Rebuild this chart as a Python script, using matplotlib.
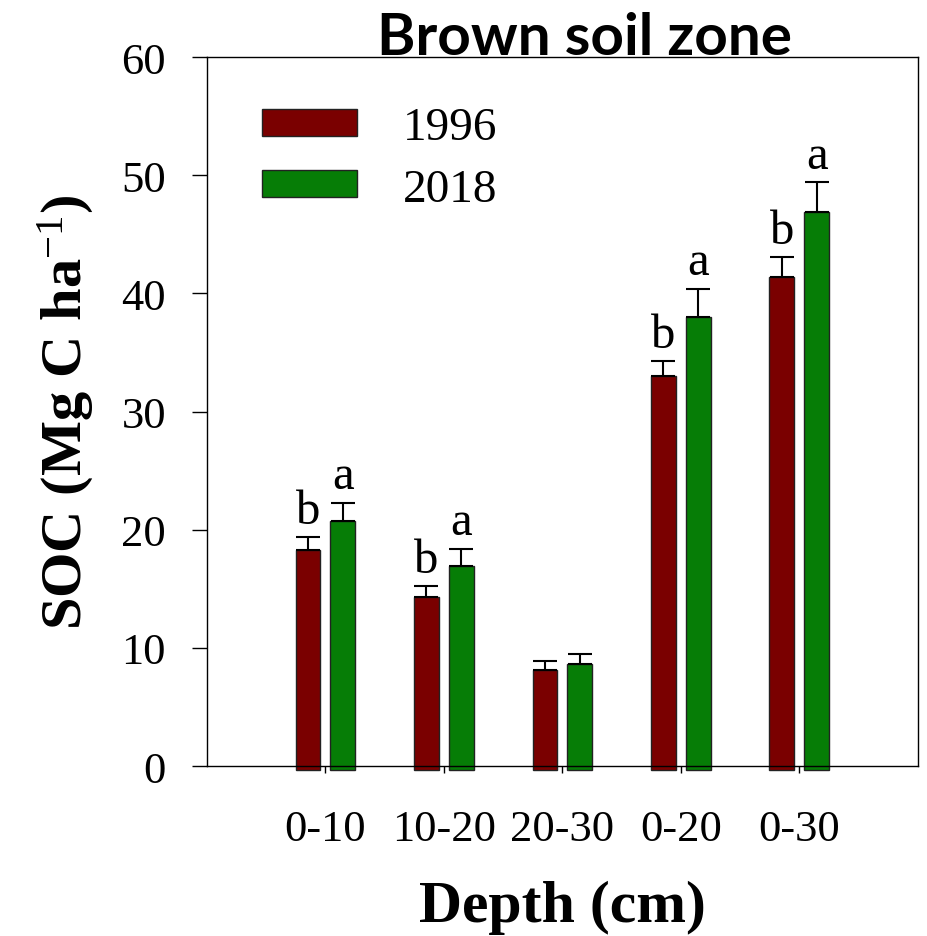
import numpy as np
import matplotlib
matplotlib.use('Agg')
import matplotlib.pyplot as plt

# data
depths = ['0-10', '10-20', '20-30', '0-20', '0-30']
soc_1996 = [18.3, 14.3, 8.1, 33.0, 41.4]
soc_2018 = [20.7, 16.9, 8.6, 38.0, 46.9]
err_1996 = [1.1, 0.9, 0.8, 1.3, 1.7]
err_2018 = [1.6, 1.5, 0.9, 2.4, 2.5]
let_1996 = ['b', 'b', '', 'b', 'b']
let_2018 = ['a', 'a', '', 'a', 'a']
yticks = [0, 10, 20, 30, 40, 50, 60]

c1996 = '#7a0000'
c2018 = '#067d06'
serif = 'Liberation Serif'
plt.rcParams['mathtext.fontset'] = 'custom'
plt.rcParams['mathtext.rm'] = serif
plt.rcParams['mathtext.it'] = serif + ':italic'
plt.rcParams['mathtext.bf'] = serif + ':bold'

fig = plt.figure(figsize=(9.28, 9.37), dpi=100)
ax = fig.add_axes([0.223, 0.1814, 0.766, 0.7567])

x = np.arange(len(depths))
w = 0.21
off = 0.147
below = 0.35  # bars poke a little under the axis line

for xs, vals, errs, col, lab, lets in ((x - off, soc_1996, err_1996, c1996, '1996', let_1996),
                                      (x + off, soc_2018, err_2018, c2018, '2018', let_2018)):
    vals = np.array(vals)
    ax.bar(xs, vals + below, bottom=-below, width=w, color=col, edgecolor='#222222',
           linewidth=1, label=lab, clip_on=False, zorder=2)
    ax.errorbar(xs, vals, yerr=[np.zeros_like(vals), errs], fmt='none', ecolor='black',
                elinewidth=1.5, capsize=8.5, capthick=1.5, zorder=3)
    for xi, v, e, l in zip(xs, vals, errs, lets):
        if l:
            ax.annotate(l, (xi, v + e), xytext=(0, 3), textcoords='offset points',
                        ha='center', va='bottom', fontsize=35, family=serif)

ax.set_xlim(-1, 5)
ax.set_ylim(0, 60)
ax.set_xticks(x)
ax.set_xticklabels(depths, fontsize=32, family=serif)
ax.set_yticks(yticks)
ax.set_yticklabels([str(t) for t in yticks], fontsize=32, family=serif)
ax.tick_params(axis='y', direction='out', length=10.5, width=1, pad=19)
ax.tick_params(axis='x', direction='out', length=5, width=1, pad=26)
for s in ax.spines.values():
    s.set_linewidth(1)

ax.set_ylabel(r'SOC (Mg C ha$^{-1}$)', fontsize=42, fontweight='bold', family=serif,
              labelpad=18)
ax.set_xlabel('Depth (cm)', fontsize=43, fontweight='bold', family=serif, labelpad=22)

leg = ax.legend(loc='upper left', bbox_to_anchor=(0.078, 0.93), frameon=False,
                prop={'family': serif, 'size': 34}, handlelength=2.0, handleheight=0.5,
                handletextpad=0.98, labelspacing=0.4, borderaxespad=0, borderpad=0)

fig.text(0.630, 0.941, 'Brown soil zone', fontsize=42, fontweight='bold', family='Lato',
         ha='center', va='baseline')

fig.savefig('out.png', dpi=100)
